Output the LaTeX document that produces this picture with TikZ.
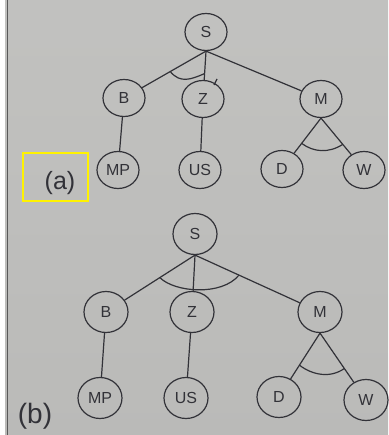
\documentclass[tikz,border=0pt]{standalone}
\usepackage{fontspec}
\setmainfont{Liberation Sans}
\usetikzlibrary{shapes.geometric,calc}
\definecolor{paper}{RGB}{198,198,196}
\definecolor{ink}{RGB}{50,50,56}
\tikzset{
  tnode/.style={ellipse,draw=ink,line width=1.2pt,inner sep=0pt,text=ink,font=\fontsize{16}{16}\selectfont},
  treeA/.style={tnode,minimum width=42pt,minimum height=37pt},
  treeB/.style={tnode,minimum width=44pt,minimum height=41pt},
  link/.style={draw=ink,line width=1.2pt},
  andarc/.style={draw=ink,line width=1.2pt},
  caption/.style={text=ink,inner sep=0pt}
}
\begin{document}
\begin{tikzpicture}[x=1pt,y=-1pt]
\useasboundingbox (0,0) rectangle (388,435);
\shade[top color=paper!108!white,bottom color=paper!94!black] (0,0) rectangle (388,435);
\fill[white] (0,0) rectangle (5,435);
\draw[gray!70!black,line width=0.8pt] (7,0) -- (7,435);

% ---------- tree (a)
\node[treeA] (S1) at (206,32) {S};
\node[treeA] (B1) at (124,98) {B};
\node[treeA] (Z1) at (203,99) {Z};
\node[treeA] (M1) at (321,99) {M};
\node[treeA] (MP1) at (118,170) {MP};
\node[treeA] (US1) at (200,170) {US};
\node[treeA] (D1) at (282,169) {D};
\node[treeA] (W1) at (364,170) {W};

\draw[link] (S1.south) -- node[coordinate,pos=0.56] (a1) {} (B1);
\draw[link] (S1.south) -- node[coordinate,pos=0.78] (a2) {} (Z1);
\draw[link] (S1.south) -- (M1);
\draw[link] (B1) -- (MP1);
\draw[link] (Z1) -- (US1);
\draw[link] (M1.south) -- node[coordinate,pos=0.72] (m1) {} (D1);
\draw[link] (M1.south) -- node[coordinate,pos=0.72] (m2) {} (W1);
\draw[andarc] (a1) .. controls ($(a1)+(10,12)$) and ($(a2)+(-14,6)$) .. (a2);
\draw[andarc] (m1) .. controls ($(m1)+(12,9)$) and ($(m2)+(-14,9)$) .. (m2);
\draw[link] (217,79) -- (214,85);

\node[caption,font=\fontsize{25}{25}\selectfont] (la) at (60,183) {(a)};
\draw[yellow,line width=2pt] (23,153) rectangle (88,201);

% ---------- tree (b)
\node[treeB] (S2) at (195,234) {S};
\node[treeB] (B2) at (106,312) {B};
\node[treeB] (Z2) at (192,312) {Z};
\node[treeB] (M2) at (320,312) {M};
\node[treeB] (MP2) at (100,398) {MP};
\node[treeB] (US2) at (186,398) {US};
\node[treeB] (D2) at (279,397) {D};
\node[treeB] (W2) at (366,400) {W};

\draw[link] (S2.south) -- node[coordinate,pos=0.5] (b1) {} (B2);
\draw[link] (S2.south) -- (Z2);
\draw[link] (S2.south) -- node[coordinate,pos=0.42] (b2) {} (M2);
\draw[link] (B2) -- (MP2);
\draw[link] (Z2) -- (US2);
\draw[link] (M2.south) -- node[coordinate,pos=0.7] (n1) {} (D2);
\draw[link] (M2.south) -- node[coordinate,pos=0.72] (n2) {} (W2);
\draw[andarc] (b1) .. controls ($(b1)+(15,15)$) and ($(b2)+(-17,21)$) .. (b2);
\draw[andarc] (n1) .. controls ($(n1)+(13,10)$) and ($(n2)+(-14,10)$) .. (n2);

\node[caption,font=\fontsize{28}{28}\selectfont] (lb) at (35,416) {(b)};
\end{tikzpicture}
\end{document}
